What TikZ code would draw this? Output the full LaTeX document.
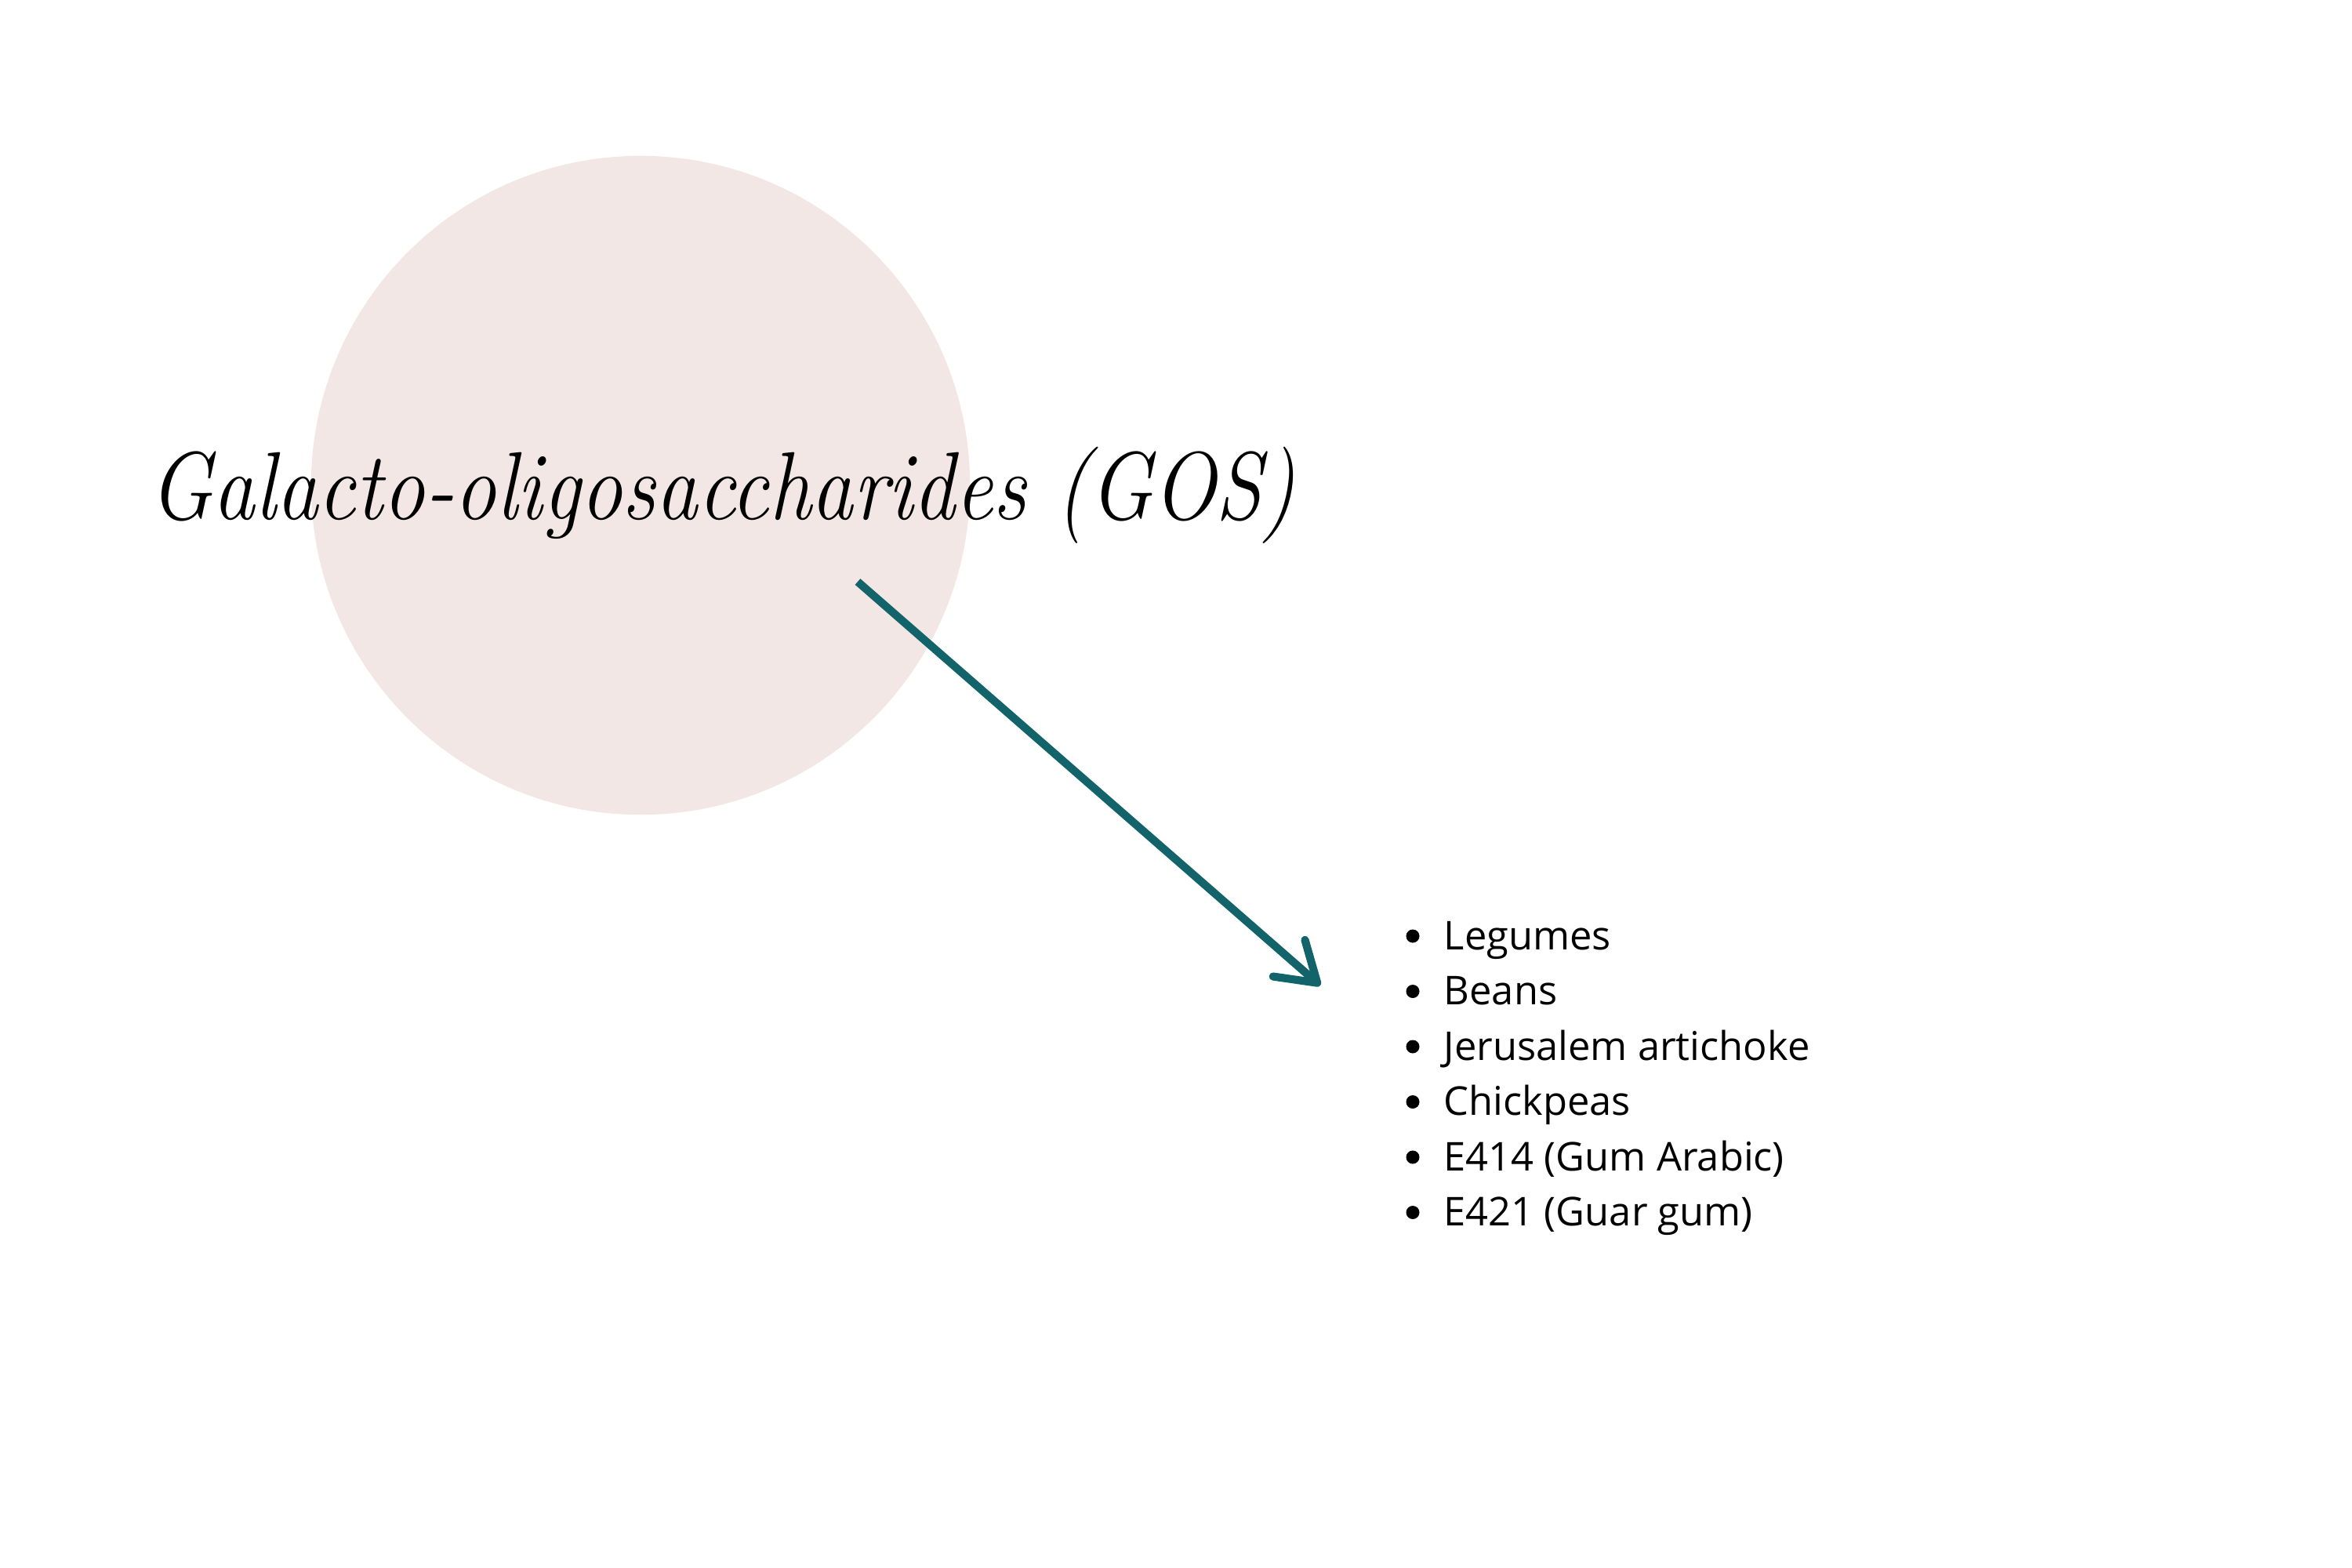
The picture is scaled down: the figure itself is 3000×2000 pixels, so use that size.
\documentclass[tikz,border=0pt]{standalone}
\usepackage{fontspec}
\newfontfamily\listfont{Open Sans}
\usepackage{tikz}
\usetikzlibrary{arrows.meta,positioning}
\definecolor{blush}{HTML}{F2E7E4}
\definecolor{teal}{HTML}{13636B}
\tikzset{
    bubble/.style={circle, fill=blush, minimum size=8.4cm, inner sep=0pt},
    heading/.style={anchor=base west, inner sep=0pt, font=\fontsize{35}{42}\selectfont\itshape},
    food/.style={anchor=base west, inner sep=0pt, font=\listfont\fontsize{14.4}{17}\selectfont},
    dot/.style={circle, fill=black, minimum size=0.17cm, inner sep=0pt},
    pointer/.style={draw=teal, line width=2.9pt, -{Straight Barb[length=13.6pt, width=17.6pt, round]}}
}
\begin{document}
\begin{tikzpicture}[x=0.01cm, y=-0.01cm]
    \useasboundingbox (0,0) rectangle (3000,2000);
    % Nodes
    \node[bubble] (circ) at (817,619) {};
    \node[heading] (title) at (190,662) {\scalebox{0.87}[1]{Galacto-oligosaccharides (GOS)}};
    \foreach \txt [count=\i] in {Legumes, Beans, Jerusalem artichoke, Chickpeas, {E414 (Gum Arabic)}, {E421 (Guar gum)}} {
        \node[food] (food\i) at (1841, {1211+70.5*(\i-1)}) {\txt};
        \node[dot] (dot\i) at (1802, {1194+70.5*(\i-1)}) {};
    }
    \coordinate (from) at (1094,742);
    \coordinate (to) at (1684,1257);

    % edges
    \draw[pointer] (from) -- (to);
\end{tikzpicture}
\end{document}
